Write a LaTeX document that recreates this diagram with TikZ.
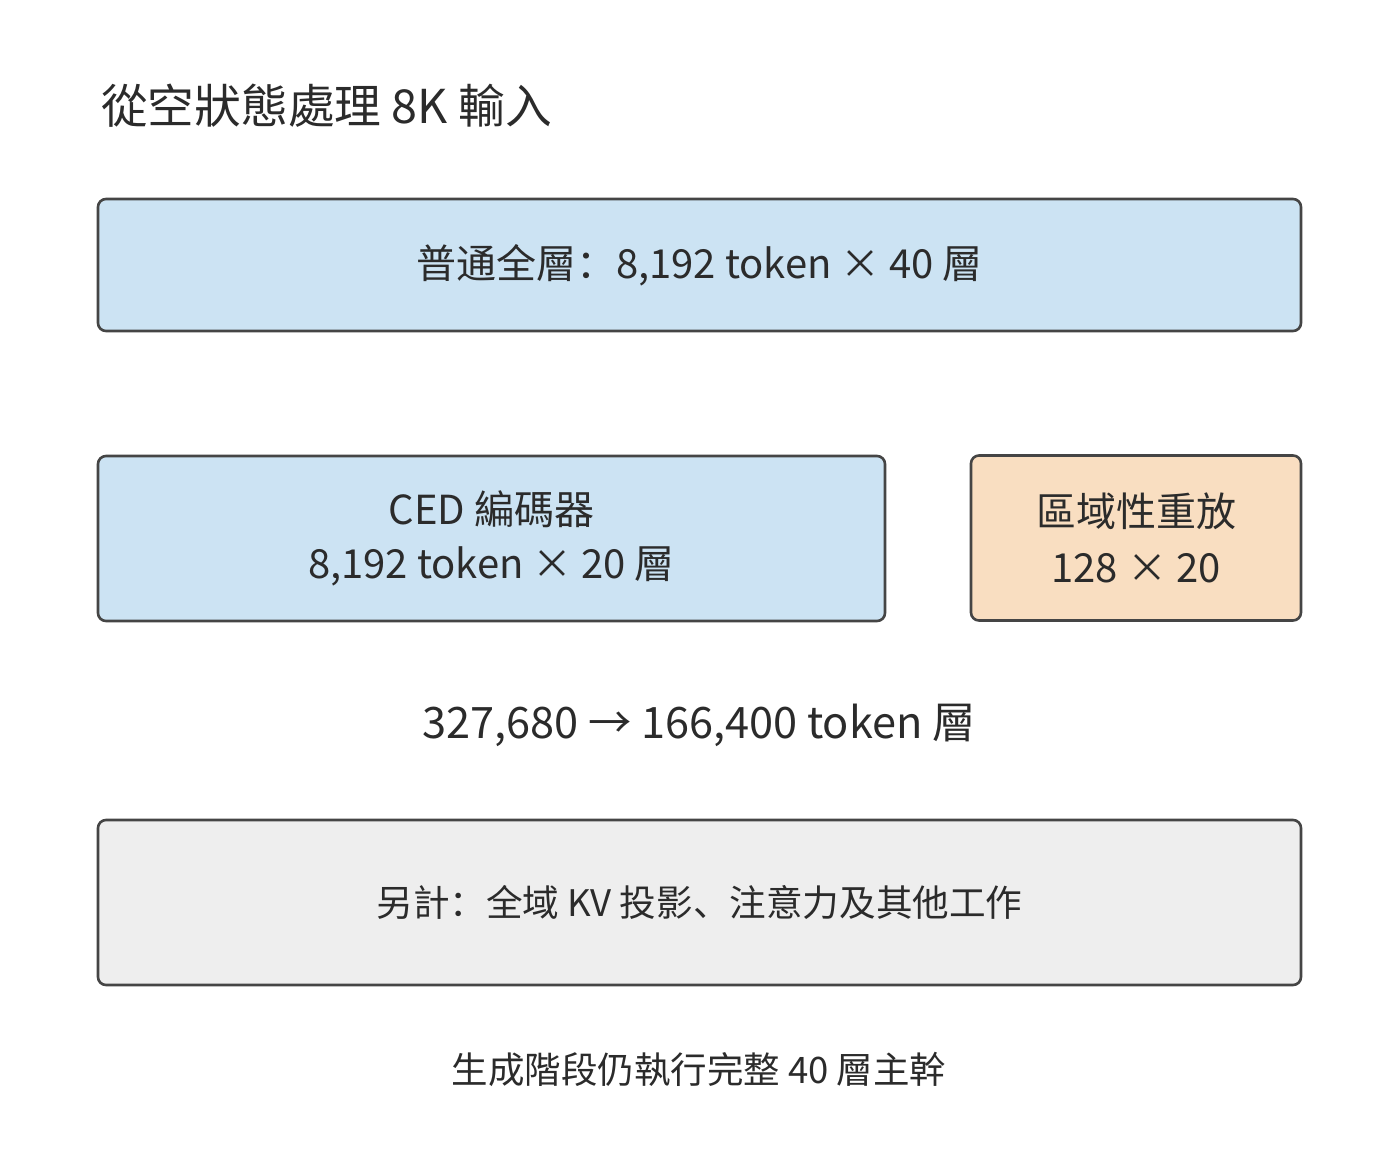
\documentclass[tikz,border=0pt]{standalone}
\usepackage{fontspec}
\setmainfont{Noto Sans CJK SC}
\usetikzlibrary{positioning}
\definecolor{bluefill}{HTML}{CCE3F3}
\definecolor{orangefill}{HTML}{F9DEC1}
\definecolor{greyfill}{HTML}{EEEEEE}
\definecolor{edge}{HTML}{454545}
\definecolor{ink}{HTML}{2B2B2B}
\begin{document}
\begin{tikzpicture}[x=1pt,y=-1pt,
  panel/.style={draw=edge, line width=2.6pt, rounded corners=8pt, inner sep=0pt, text=ink, align=center},
  lbl/.style={text=ink, inner sep=0pt, align=center}]
\useasboundingbox[fill=white] (0,0) rectangle (1400,1152);
\node[lbl, anchor=west, font=\fontsize{46.7}{54}\selectfont] (title) at (101,106) {從空狀態處理 8K 輸入};
\node[panel, fill=bluefill, minimum width=1203pt, minimum height=132pt, font=\fontsize{40}{48}\selectfont] (full) at (699.5,265) {普通全層：8,192 token × 40 層};
\node[panel, fill=bluefill, minimum width=787pt, minimum height=165pt, font=\fontsize{40}{54}\selectfont] (ced) at (491.5,538.5) {CED 編碼器\\8,192 token × 20 層};
\node[panel, fill=orangefill, minimum width=330pt, minimum height=165pt, font=\fontsize{40}{56}\selectfont] (replay) at (1136,538) {區域性重放\\128 × 20};
\node[lbl, font=\fontsize{43.3}{50}\selectfont] (sum) at (699,725) {327,680 → 166,400 token 層};
\node[panel, fill=greyfill, minimum width=1203pt, minimum height=165pt, font=\fontsize{36.6}{44}\selectfont] (other) at (699.5,902.5) {另計：全域 KV 投影、注意力及其他工作};
\node[lbl, font=\fontsize{36.5}{44}\selectfont] (foot) at (699,1069) {生成階段仍執行完整 40 層主幹};
\end{tikzpicture}
\end{document}
